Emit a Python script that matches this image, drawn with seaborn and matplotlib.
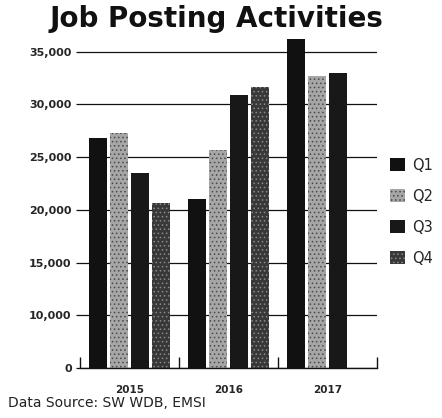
import pandas as pd
import seaborn as sns
import matplotlib.pyplot as plt
import matplotlib.ticker as mtick

years = ["2015", "2016", "2017"]
quarters = ["Q1", "Q2", "Q3", "Q4"]
q1 = [26850, 21050, 36180]
q2 = [27320, 25700, 32670]
q3 = [23510, 30860, 32980]
q4 = [20600, 31600, None]   # no Q4 for 2017 yet
colors = ["#111111", "#a6a6a6", "#181818", "#383838"]
# speckled print texture
hatches = [None, "....", None, "...."]
hatch_cols = [None, "#4a4a4a", None, "#8a8a8a"]

rows = []
for q, vals in zip(quarters, [q1, q2, q3, q4]):
    for yr, v in zip(years, vals):
        if v is not None:
            rows.append({"year": yr, "quarter": q, "postings": v})
df = pd.DataFrame(rows)

sns.set_style("white")
plt.rcParams["font.family"] = ["DejaVu Sans"]
plt.rcParams["hatch.linewidth"] = 0.6

fig = plt.figure(figsize=(4.42, 4.18), dpi=100)
ax = fig.add_axes([0.181, 0.1196, 0.672, 0.795])

sns.barplot(data=df, x="year", y="postings", hue="quarter", order=years,
            hue_order=quarters, palette=colors, width=0.86, gap=0.15,
            saturation=1, ax=ax, legend=False, linewidth=0)

for cont, h, hc in zip(ax.containers, hatches, hatch_cols):
    if h is None:
        continue
    for bar in cont:
        bar.set_hatch(h)
        bar.set_edgecolor(hc)
        bar.set_linewidth(0)

# axis is broken in the original: bottom tick reads 0 but sits at 5,000
ax.set_ylim(5000, 36500)
ax.set_xlim(-0.5, 2.5)
yt = [5000, 10000, 15000, 20000, 25000, 30000, 35000]
ax.set_yticks(yt)
ax.set_yticklabels(["0"] + [f"{v:,}" for v in yt[1:]])
ax.yaxis.grid(True, color="#111111", linewidth=0.9)
ax.set_axisbelow(True)
for s in ["left", "right", "top"]:
    ax.spines[s].set_visible(False)
ax.spines["bottom"].set_color("#111111")
ax.spines["bottom"].set_linewidth(1.0)

ax.tick_params(axis="y", left=True, length=3, width=0.9, color="#111111",
               pad=3, labelsize=8)
for t in ax.get_yticklabels():
    t.set_fontweight("bold")
ax.tick_params(axis="x", which="major", length=0, pad=12, labelsize=7.5)
for t in ax.get_xticklabels():
    t.set_fontweight("bold")
ax.xaxis.set_minor_locator(mtick.FixedLocator([-0.5, 0.5, 1.5, 2.5]))
ax.tick_params(axis="x", which="minor", bottom=True, direction="in",
               length=8, width=1, color="#111111")
ax.set_xlabel("")
ax.set_ylabel("")

handles = []
for c, h, hc in zip(colors, hatches, hatch_cols):
    p = plt.Rectangle((0, 0), 1, 1, facecolor=c, linewidth=0)
    if h is not None:
        p.set_hatch(h)
        p.set_edgecolor(hc)
    handles.append(p)
fig.legend(handles, quarters, loc="upper left", bbox_to_anchor=(0.882, 0.623),
           frameon=False, fontsize=10.5, handlelength=1.03, handleheight=1.03,
           handletextpad=0.48, labelspacing=1.1, borderpad=0, borderaxespad=0)

fig.text(0.49, 0.955, "Job Posting Activities", ha="center", va="center",
         fontsize=20, fontweight="bold", color="#111111")
fig.text(0.018, 0.035, "Data Source: SW WDB, EMSI", ha="left", va="center",
         fontsize=10, color="#222222")

fig.savefig("out.png", dpi=100)
